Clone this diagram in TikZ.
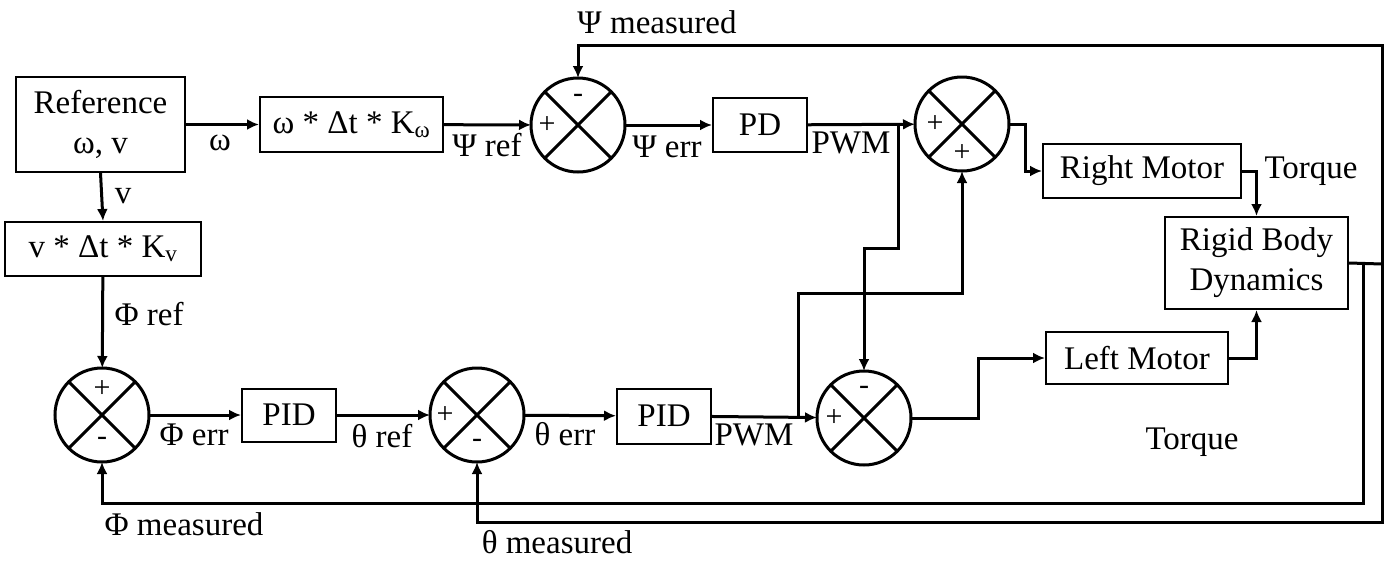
\documentclass[tikz,border=0pt]{standalone}
\usepackage{fontspec}
\setmainfont{Liberation Serif}
\usetikzlibrary{arrows.meta}
\tikzstyle{block} = [rectangle, draw=black, line width=2pt, text centered, inner sep=0pt]
\tikzstyle{sumpt} = [circle, draw=black, line width=3pt, minimum size=94pt, inner sep=0pt, outer sep=0pt]
\tikzstyle{arrow} = [line width=3pt, -{Latex[length=12pt,width=11pt]}]
\tikzstyle{wire} = [line width=3pt]
\tikzstyle{lbl} = [anchor=base, inner sep=0pt]
\tikzstyle{sgn} = [inner sep=0pt, font=\fontsize{30}{30}\selectfont]

\begin{document}
\begin{tikzpicture}[x=1pt, y=-1pt, font=\fontsize{33}{40}\selectfont]
	\useasboundingbox (0,0) rectangle (1395,560);

	% blocks
	\node (ref) [block, minimum width=169pt, minimum height=95pt, align=center] at (100.5,124.5) {Reference\\ω, v};
	\node (kw) [block, minimum width=183pt, minimum height=55pt] at (351.5,124.5) {ω * Δt * K\textsubscript{ω}};
	\node (kv) [block, minimum width=196pt, minimum height=54pt] at (103,249) {v * Δt * K\textsubscript{v}};
	\node (pd) [block, minimum width=94pt, minimum height=54pt] at (760,125) {PD};
	\node (pid1) [block, minimum width=94pt, minimum height=53pt] at (289,415) {PID};
	\node (pid2) [block, minimum width=94pt, minimum height=55pt] at (664,416) {PID};
	\node (rm) [block, minimum width=198pt, minimum height=54pt] at (1142,171) {Right Motor};
	\node (lm) [block, minimum width=182pt, minimum height=52pt] at (1137,358) {Left Motor};
	\node (rb) [block, minimum width=183pt, minimum height=92pt, align=center] at (1256.5,263) {Rigid Body\\Dynamics};

	% summing points
	\node (s1) [sumpt] at (578,125) {};
	\node (s2) [sumpt] at (962,124) {};
	\node (s3) [sumpt] at (477,415) {};
	\node (s4) [sumpt] at (864,418) {};
	\node (s5) [sumpt] at (102,415) {};
	\foreach \s in {s1,s2,s3,s4,s5} {
		\draw [wire] (\s.north west) -- (\s.south east);
		\draw [wire] (\s.north east) -- (\s.south west);
	}
	\node (s1a) [sgn] at ([xshift=-31pt]s1.center) {+};
	\node (s1b) [sgn] at ([yshift=27pt]s1.center) {-};
	\node (s2a) [sgn] at ([xshift=-27pt]s2.center) {+};
	\node (s2b) [sgn] at ([yshift=-29pt]s2.center) {+};
	\node (s3a) [sgn] at ([xshift=-32pt]s3.center) {+};
	\node (s3b) [sgn] at ([yshift=-28pt]s3.center) {-};
	\node (s4a) [sgn] at ([xshift=-30pt]s4.center) {+};
	\node (s4b) [sgn] at ([yshift=28pt]s4.center) {-};
	\node (s5a) [sgn] at ([yshift=26pt]s5.center) {+};
	\node (s5b) [sgn] at ([yshift=-26pt]s5.center) {-};

	% junctions
	\coordinate (b1) at (898,125);
	\coordinate (j1) at (864,248);
	\coordinate (b2) at (798,416);
	\coordinate (j2) at (962,293);
	\coordinate (j3) at (1025,171);
	\coordinate (j4) at (978,358);
	\coordinate (o1) at (1382,264);
	\coordinate (o2) at (1363,264);
	\coordinate (t1) at (578,45);
	\coordinate (t2) at (477,522);
	\coordinate (t3) at (102,503);

	% forward paths
	\draw [arrow] (ref) -- (kw);
	\draw [arrow] (ref.south) -- (kv.north);
	\draw [arrow] (kw) -- (s1);
	\draw [arrow] (s1) -- (pd);
	\draw [arrow] (pd) -- (s2);
	\draw [arrow] (b1) |- (j1) -- (s4);
	\draw [arrow] (kv) -- (s5);
	\draw [arrow] (s5) -- (pid1);
	\draw [arrow] (pid1) -- (s3);
	\draw [arrow] (s3) -- (pid2);
	\draw [arrow] (pid2) -- (s4);
	\draw [arrow] (b2) |- (j2) -- (s2);
	\draw [arrow] (s2) -| (j3) -- (rm);
	\draw [arrow] (s4) -| (j4) -- (lm);
	\draw [arrow] (rm.east) -| (rb.north);
	\draw [arrow] (lm.east) -| (rb.south);

	% feedback
	\draw [wire] (rb.east) -- (o1);
	\draw [arrow] (o1) |- (t1) -- (s1);
	\draw [arrow] (o1) |- (t2) -- (s3);
	\draw [arrow] (o2) |- (t3) -- (s5);

	% labels
	\node (lomega) [lbl] at (220,150) {ω};
	\node (lv) [lbl] at (123,203) {v};
	\node (lpsiref) [lbl] at (487,156) {Ψ ref};
	\node (lpsierr) [lbl] at (667,157) {Ψ err};
	\node (lpwm1) [lbl] at (851,153) {PWM};
	\node (lphiref) [lbl] at (149,325) {Φ ref};
	\node (lphierr) [lbl] at (194,445) {Φ err};
	\node (lthref) [lbl] at (382,447) {θ ref};
	\node (ltherr) [lbl] at (565,445) {θ err};
	\node (lpwm2) [lbl] at (754,445) {PWM};
	\node (lpsims) [lbl] at (657,33) {Ψ measured};
	\node (lphims) [lbl] at (184,535) {Φ measured};
	\node (lthms) [lbl] at (557,553) {θ measured};
	\node (ltq1) [lbl] at (1311,178) {Torque};
	\node (ltq2) [lbl] at (1192,449) {Torque};

\end{tikzpicture}
\end{document}
